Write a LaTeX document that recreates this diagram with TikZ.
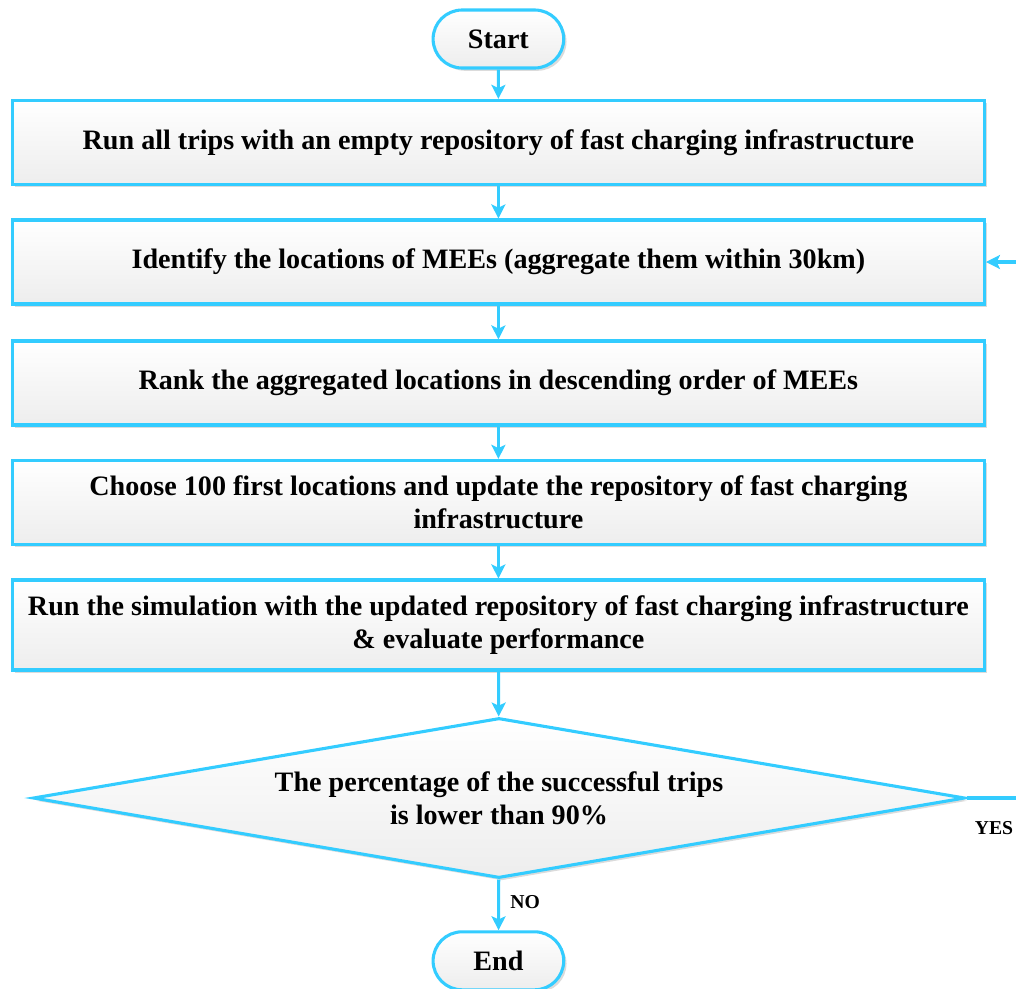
\documentclass[tikz,border=0pt]{standalone}
\usepackage{fontspec}
\setmainfont{Liberation Serif}
\usetikzlibrary{shapes.geometric, shapes.misc, shadows, arrows.meta}
\definecolor{fluxo}{RGB}{51,204,255}

\tikzset{
	caixa/.style = {draw = fluxo, line width = 2.2pt, top color = white, bottom color = black!7,
		drop shadow = {shadow xshift = .07cm, shadow yshift = -.07cm, fill = black!20, opacity = .7},
		minimum width = 24.3cm, minimum height = 2.1cm, align = center,
		font = \fontsize{20}{23.5}\selectfont\bfseries},
	terminal/.style = {caixa, rounded rectangle, minimum width = 3.5cm, minimum height = 1.45cm},
	decisao/.style = {caixa, diamond, aspect = 5.8, inner sep = 0pt, minimum width = 23.3cm, minimum height = 4cm},
	seta/.style = {draw = fluxo, line width = 2.2pt, -{Stealth[length = .35cm, width = .35cm, inset = .08cm]}},
	rotulo/.style = {font = \fontsize{14}{16}\selectfont\bfseries}
}

\begin{document}
\begin{tikzpicture}

	\useasboundingbox (0, 0) rectangle (25.4, -24.7);

	%%% BLOCOS %%%

	\node[terminal] (inicio) at (12.46, -0.975) {Start};
	\node[caixa] (b1) at (12.46, -3.56) {Run all trips with an empty repository of fast charging infrastructure};
	\node[caixa] (b2) at (12.46, -6.55) {Identify the locations of MEEs (aggregate them within 30km)};
	\node[caixa] (b3) at (12.46, -9.575) {Rank the aggregated locations in descending order of MEEs};
	\node[caixa] (b4) at (12.46, -12.56) {Choose 100 first locations and update the repository of fast charging\\infrastructure};
	\node[caixa, minimum height = 2.25cm] (b5) at (12.46, -15.625) {Run the simulation with the updated repository of fast charging infrastructure\\\& evaluate performance};
	\node[decisao] (dec) at (12.475, -19.95) {The percentage of the successful trips\\is lower than 90\%};
	\node[terminal] (fim) at (12.46, -24.02) {End};

	%%% SETAS %%%

	\draw[seta] (inicio) -- (b1);
	\draw[seta] (b1) -- (b2);
	\draw[seta] (b2) -- (b3);
	\draw[seta] (b3) -- (b4);
	\draw[seta] (b4) -- (b5);
	\draw[seta] (b5) -- (dec);
	\draw[seta] (dec) -- (fim);

	\coordinate (retorno) at (26.2, -19.95);
	\draw[seta] (dec.east) -- (retorno) |- (b2.east);

	\node[rotulo] (nao) at (13.13, -22.55) {NO};
	\node[rotulo] (sim) at (24.85, -20.7) {YES};

\end{tikzpicture}
\end{document}
